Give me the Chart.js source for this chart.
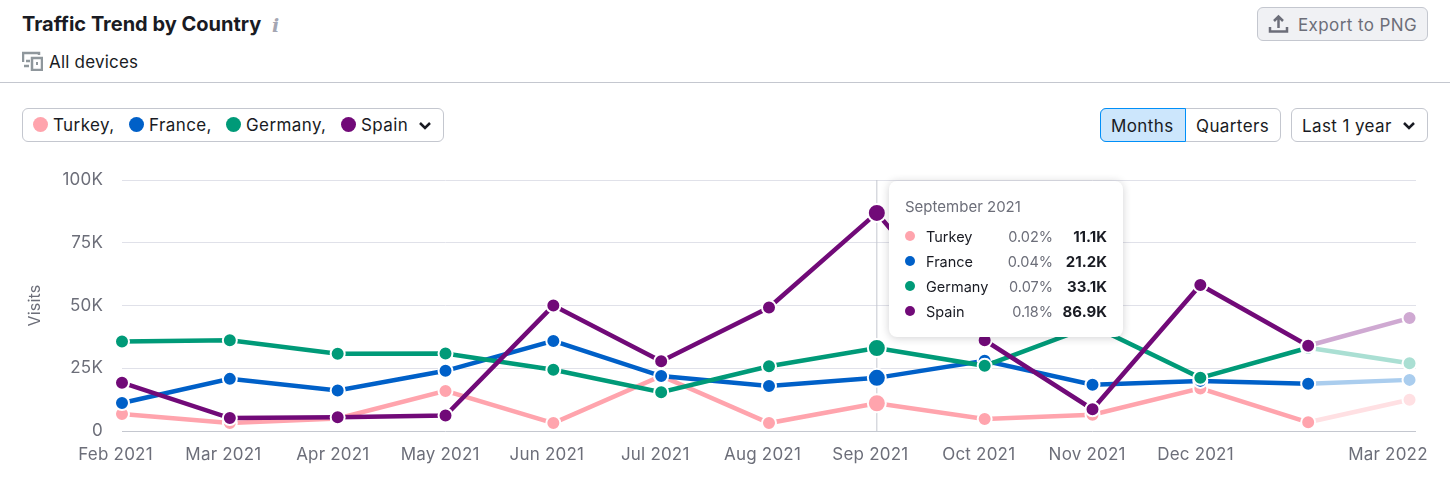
<!DOCTYPE html>
<html><head><meta charset="utf-8">
<script src="https://cdn.jsdelivr.net/npm/chart.js@4"></script>
<style>
html,body{margin:0;padding:0;background:#fff;width:1450px;height:498px;overflow:hidden;font-family:Inter,sans-serif;color:#191b23}
.a{position:absolute;white-space:nowrap;box-sizing:border-box}
.box{border:1px solid #c4c7cf;border-radius:6px;height:34px;top:108px;background:#fff}
.t16{font-size:17px;line-height:20px;letter-spacing:.4px}
.dot{position:absolute;border-radius:50%}
#wrap{position:absolute;left:0;top:150px;width:1450px;height:348px}
#tip{left:889px;top:181px;width:234px;height:156px;background:#fff;border-radius:8px;box-shadow:0 1px 8px rgba(25,27,35,.2)}
#tip .r{position:absolute;font-size:14.500px;line-height:18px;white-space:nowrap}
</style></head><body>
<div class="a" style="left:22px;top:12px;font-size:20px;line-height:24px;font-weight:700">Traffic Trend by Country</div>
<div class="a" style="left:272px;top:13px;font-size:19px;line-height:24px;font-family:'DejaVu Serif',serif;font-style:italic;font-weight:700;color:#a4a6b3">i</div>
<svg class="a" style="left:22px;top:51px" width="21" height="20" viewBox="0 0 21 20" fill="none" stroke="#8f979c" stroke-width="2.500"><path d="M1 11V2h16v2"/><path d="M2 15h5M8 10H4"/><rect x="10" y="7" width="10" height="12"/><rect x="14" y="11" width="2" height="3" fill="#8f979c" stroke="none"/></svg>
<div class="a t16" style="left:49px;top:52px;color:#191b23;letter-spacing:.2px">All devices</div>
<div class="a" style="left:0;top:82px;width:1450px;height:1px;background:#c4c7cf"></div>

<div class="a" style="left:1257px;top:7px;width:171px;height:34px;background:#f0f1f4;border:1px solid #c4c7cf;border-radius:6px"></div>
<svg class="a" style="left:1268px;top:14px" width="21" height="20" viewBox="0 0 21 20" fill="none" stroke="#6c6e79" stroke-width="2.500"><path d="M10.500 14V3M6 7l4.500-4.500L15 7"/><path d="M2 13v4.500h17V13"/></svg>
<div class="a t16" style="left:1298px;top:15px;color:#6c6e79">Export to PNG</div>

<div class="a box" style="left:22px;width:422px"></div>
<div class="dot" style="left:33px;top:117px;width:15px;height:15px;background:#ffa4ad"></div>
<div class="a t16" style="left:53px;top:115px">Turkey,</div>
<div class="dot" style="left:129px;top:117px;width:15px;height:15px;background:#0060c8"></div>
<div class="a t16" style="left:149px;top:115px">France,</div>
<div class="dot" style="left:226px;top:117px;width:15px;height:15px;background:#009a78"></div>
<div class="a t16" style="left:246px;top:115px">Germany,</div>
<div class="dot" style="left:341px;top:117px;width:15px;height:15px;background:#710a78"></div>
<div class="a t16" style="left:361px;top:115px">Spain</div>
<svg class="a" style="left:418px;top:121px" width="14" height="9" viewBox="0 0 14 9" fill="none" stroke="#191b23" stroke-width="2.500"><path d="M2 2l5 5 5-5"/></svg>

<div class="a box" style="left:1100px;width:181px"></div>
<div class="a" style="left:1100px;top:108px;width:86px;height:34px;background:#cce6fc;border:1px solid #008ff8;border-radius:6px 0 0 6px"></div>
<div class="a t16" style="left:1111px;top:116px">Months</div>
<div class="a t16" style="left:1196px;top:116px">Quarters</div>
<div class="a box" style="left:1291px;width:137px"></div>
<div class="a t16" style="left:1302px;top:116px">Last 1 year</div>
<svg class="a" style="left:1402px;top:121px" width="14" height="9" viewBox="0 0 14 9" fill="none" stroke="#191b23" stroke-width="2.500"><path d="M2 2l5 5 5-5"/></svg>

<div id="wrap"><canvas id="c"></canvas></div>
<div class="a" id="tip"></div>

<script>
const monthIndex = [0,1,2,3,4,5,6,7,8,9,10,11,11.94];
const tickValues = [-0.06,0.94,1.955,2.95,3.94,4.945,5.94,6.94,7.945,8.95,9.955,11.74];
const tickLabels = ['Feb 2021','Mar 2021','Apr 2021','May 2021','Jun 2021','Jul 2021','Aug 2021','Sep 2021','Oct 2021','Nov 2021','Dec 2021','Mar 2022'];
const yTicks = [0,25,50,75,100];
const turkey  = [6.8,3.2,5,16,3.2,22,3.2,11.1,4.8,6.5,17,3.5,12.5];
const france  = [11.2,20.8,16.2,24,35.9,21.9,18,21.2,28,18.5,20,18.9,20.4];
const germany = [35.7,36.2,30.8,30.9,24.4,15.5,25.8,33.1,26,42,21.2,33.2,27];
const spain   = [19.3,5.2,5.5,6.2,50,27.8,49.2,86.9,36.2,8.7,58.2,34,45];
const seriesNames = ['Turkey','France','Germany','Spain'];
const seriesColors = ['#ffa4ad','#0060c8','#009a78','#710a78'];
const seriesPale = ['#ffe0e3','#aacdee','#aadfd3','#cfa9d2'];
const seriesValues = [turkey,france,germany,spain];
const shares = ['0.02%','0.04%','0.07%','0.18%'];
const hoverIndex = 7;
const lastIndex = 12;

const datasets = seriesNames.map((name,i)=>({
  label:name,
  data:seriesValues[i].map((v,k)=>({x:monthIndex[k],y:v})),
  order:3-i,
  clip:false,
  borderColor:seriesColors[i],
  borderWidth:4.500,
  tension:0,
  pointBorderColor:'#fff',
  pointBorderWidth:2,
  pointBackgroundColor:c=>c.dataIndex===lastIndex?seriesPale[i]:seriesColors[i],
  pointRadius:c=>c.dataIndex===hoverIndex?9:7,
  segment:{borderColor:c=>c.p1DataIndex===lastIndex?seriesPale[i]:seriesColors[i]}
}));
datasets.push({
  label:'hover',
  data:[{x:monthIndex[hoverIndex],y:0},{x:monthIndex[hoverIndex],y:100}],
  order:10,borderColor:'#c4c7cf',borderWidth:1,pointRadius:0
});

const spacing = {id:'spacing',
  beforeLayout(ch){ch.ctx.letterSpacing='0.2px'},
  beforeDraw(ch){ch.ctx.letterSpacing='0.2px'}
};

new Chart(document.getElementById('c'),{
  type:'line',
  data:{datasets},
  plugins:[spacing],
  options:{
    responsive:true,maintainAspectRatio:false,animation:false,
    events:[],
    layout:{padding:{left:26,right:34,top:30,bottom:26.500}},
    plugins:{legend:{display:false},tooltip:{enabled:false}},
    scales:{
      x:{type:'linear',min:0,max:12,
        grid:{display:false},border:{display:false},
        afterBuildTicks:s=>{s.ticks=tickValues.map(v=>({value:v}))},
        ticks:{autoSkip:false,maxRotation:0,minRotation:0,color:'#6c6e79',font:{family:'Inter',size:17},padding:6,
          callback:(v,i)=>tickLabels[i]}
      },
      y:{min:0,max:100,
        afterFit:s=>{s.width=96},
        afterBuildTicks:s=>{s.ticks=yTicks.map(v=>({value:v}))},
        grid:{color:c=>c.tick.value===0?'#c4c7cf':'#e0e1e9',lineWidth:1,drawTicks:false},
        border:{display:false},
        title:{display:true,text:'Visits',color:'#6c6e79',font:{family:'Inter',size:16},padding:{top:0,bottom:0}},
        ticks:{color:'#6c6e79',font:{family:'Inter',size:17},padding:19,
          callback:v=>v===0?'0':v+'K'}
      }
    }
  }
});

const tip=document.getElementById('tip');
let html='<div class="r" style="left:16px;top:17px;color:#6c6e79;font-size:15px">September 2021</div>';
seriesNames.forEach((n,i)=>{
  const y=46+25*i;
  html+=`<div class="dot" style="left:16px;top:${y+4}px;width:10px;height:10px;background:${seriesColors[i]}"></div>`;
  html+=`<div class="r" style="left:37px;top:${y+1}px">${n}</div>`;
  html+=`<div class="r" style="right:70px;top:${y+1}px;color:#6c6e79">${shares[i]}</div>`;
  html+=`<div class="r" style="right:16px;top:${y+1}px;font-weight:700;font-size:15px">${seriesValues[i][hoverIndex].toFixed(1)}K</div>`;
});
tip.innerHTML=html;
</script>
</body></html>
